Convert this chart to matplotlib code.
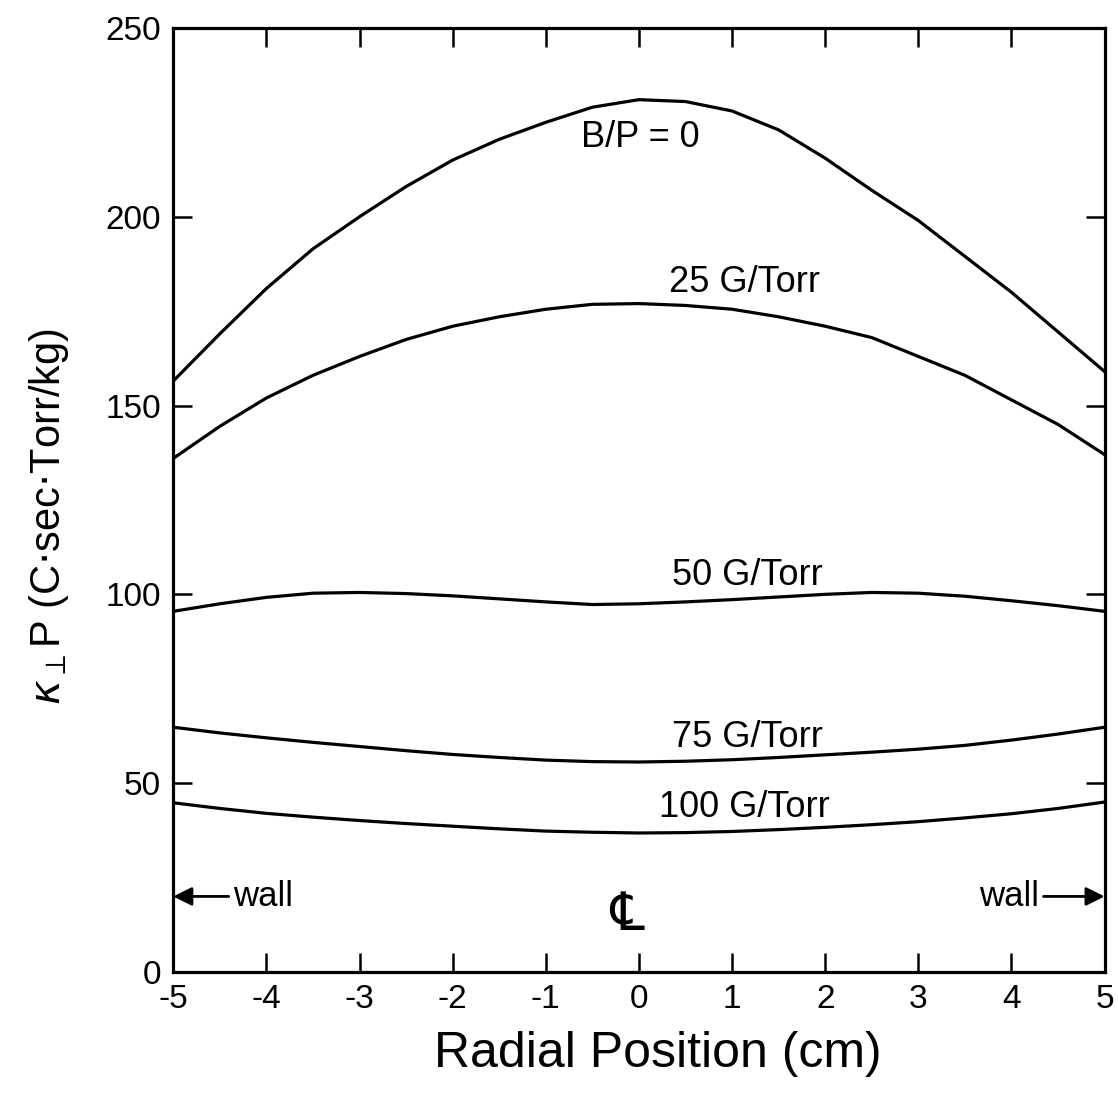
import matplotlib.pyplot as plt

plt.rcParams["font.family"] = ["Liberation Sans", "DejaVu Sans"]

# ---- values ----
radial_cm = [-5, -4.5, -4, -3.5, -3, -2.5, -2, -1.5, -1, -0.5, 0,
             0.5, 1, 1.5, 2, 2.5, 3, 3.5, 4, 4.5, 5]

kappa_bp0 = [156.5, 169, 181, 191.5, 200, 208, 215, 220.5, 225, 229, 231,
             230.5, 228, 223, 215.5, 207, 199, 189.5, 180, 169.5, 159]
kappa_25 = [136, 144.5, 152, 158, 163, 167.5, 171, 173.5, 175.5, 176.8, 177,
            176.5, 175.5, 173.5, 171, 168, 163, 158, 151.5, 145, 137]
kappa_50 = [95.5, 97.5, 99.2, 100.3, 100.5, 100.2, 99.6, 98.8, 98, 97.3, 97.5,
            98, 98.6, 99.3, 100, 100.5, 100.3, 99.5, 98.3, 97, 95.5]
kappa_75 = [64.8, 63.3, 62, 60.8, 59.7, 58.6, 57.6, 56.8, 56.1, 55.7, 55.6,
            55.8, 56.2, 56.8, 57.5, 58.2, 59, 60, 61.4, 63, 64.8]
kappa_100 = [44.8, 43.3, 42, 41, 40.1, 39.3, 38.6, 37.9, 37.3, 37, 36.8,
             36.9, 37.2, 37.7, 38.3, 39, 39.8, 40.8, 41.9, 43.3, 45]

curve_labels = ["B/P = 0", "25 G/Torr", "50 G/Torr", "75 G/Torr", "100 G/Torr"]
label_x = [0.01, 1.13, 1.16, 1.16, 1.13]
label_y = [221, 182.5, 105, 62, 43.5]

x_ticks = [-5, -4, -3, -2, -1, 0, 1, 2, 3, 4, 5]
y_ticks = [0, 50, 100, 150, 200, 250]

fig = plt.figure(figsize=(11.18, 10.99), dpi=100)
ax = fig.add_axes([0.155, 0.1156, 0.833, 0.859])

for ys in [kappa_bp0, kappa_25, kappa_50, kappa_75, kappa_100]:
    ax.plot(radial_cm, ys, color="black", lw=2.3, solid_joinstyle="round")

for txt, tx, ty in zip(curve_labels, label_x, label_y):
    ax.text(tx, ty, txt, ha="center", va="center", fontsize=26)

# wall markers and centre line
ax.annotate("wall", xy=(-5, 20), xytext=(-4.36, 20), ha="left", va="center",
            fontsize=25,
            arrowprops=dict(arrowstyle="-|>", color="black", lw=2,
                            mutation_scale=28, shrinkA=1, shrinkB=0))
ax.annotate("wall", xy=(5, 20), xytext=(4.3, 20), ha="right", va="center",
            fontsize=25,
            arrowprops=dict(arrowstyle="-|>", color="black", lw=2,
                            mutation_scale=28, shrinkA=1, shrinkB=0))
ax.text(-0.13, 15, "\u2104", ha="center", va="center", fontsize=38,
        family=["DejaVu Sans"])

ax.set_xlim(-5, 5)
ax.set_ylim(0, 250)
ax.set_xticks(x_ticks)
ax.set_yticks(y_ticks)
ax.set_xticklabels([str(v) for v in x_ticks])
ax.set_yticklabels([str(v) for v in y_ticks])
ax.tick_params(direction="in", length=14, width=1.8, labelsize=24, pad=9,
               top=True, right=True, labeltop=False, labelright=False)
for s in ax.spines.values():
    s.set_linewidth(2.3)

ax.set_xlabel("Radial Position (cm)", fontsize=36)
ax.set_ylabel(r"$\kappa_{\perp}$P (C$\cdot$sec$\cdot$Torr/kg)", fontsize=30)
ax.xaxis.set_label_coords(0.52, -0.063)
ax.yaxis.set_label_coords(-0.11, 0.482)

fig.savefig("out.png", dpi=100)
